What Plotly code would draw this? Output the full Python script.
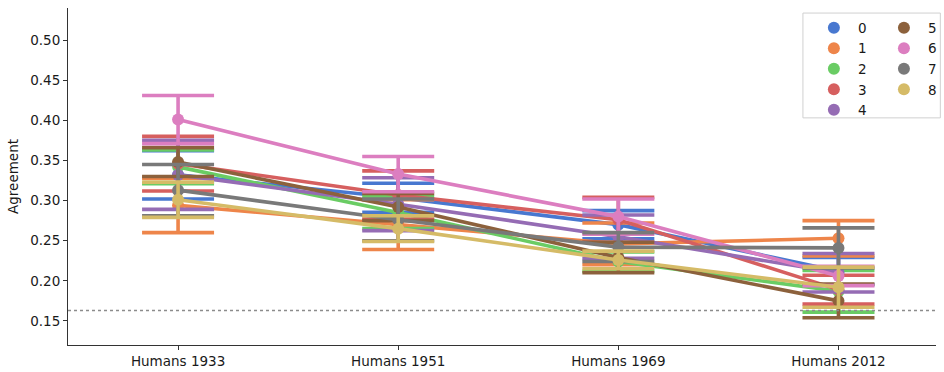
import plotly.graph_objects as go

# Agreement per model group across the four human reference sets
categories = ["Humans 1933", "Humans 1951", "Humans 1969", "Humans 2012"]
groups = ["0", "1", "2", "3", "4", "5", "6", "7", "8"]

mean_0 = [0.332, 0.3035, 0.270, 0.212]
mean_1 = [0.294, 0.270, 0.246, 0.253]
mean_2 = [0.342, 0.285, 0.224, 0.187]
mean_3 = [0.346, 0.307, 0.276, 0.189]
mean_4 = [0.332, 0.2955, 0.255, 0.210]
mean_5 = [0.348, 0.292, 0.229, 0.175]
mean_6 = [0.401, 0.333, 0.280, 0.206]
mean_7 = [0.313, 0.276, 0.242, 0.241]
mean_8 = [0.301, 0.265, 0.226, 0.192]

ci_0 = [0.030, 0.018, 0.0175, 0.017]
ci_1 = [0.034, 0.031, 0.026, 0.022]
ci_2 = [0.021, 0.020, 0.012, 0.026]
ci_3 = [0.034, 0.030, 0.028, 0.018]
ci_4 = [0.043, 0.033, 0.027, 0.024]
ci_5 = [0.018, 0.017, 0.019, 0.021]
ci_6 = [0.030, 0.022, 0.022, 0.012]
ci_7 = [0.032, 0.026, 0.018, 0.025]
ci_8 = [0.022, 0.016, 0.011, 0.025]

chance_level = 0.163

means = [mean_0, mean_1, mean_2, mean_3, mean_4, mean_5, mean_6, mean_7, mean_8]
cis = [ci_0, ci_1, ci_2, ci_3, ci_4, ci_5, ci_6, ci_7, ci_8]

# seaborn "muted" palette
palette = ["#4878d0", "#ee854a", "#6acc64", "#d65f5f", "#956cb4",
           "#8c613c", "#dc7ec0", "#797979", "#d5bb67"]

FONT = "DejaVu Sans"
FS = 13.5
TEXT = "#1a1a1a"
AXIS_COLOR = "#333333"

fig = go.Figure()

for name, m, ci, col in zip(groups, means, cis, palette):
    fig.add_trace(go.Scatter(
        x=categories, y=m,
        mode="lines+markers",
        line=dict(color=col, width=3.6),
        marker=dict(color=col, size=12),
        error_y=dict(type="data", array=ci, visible=True,
                     color=col, thickness=3.6, width=36),
        showlegend=False, hoverinfo="skip",
    ))

# legend entries: circles only, split into two columns
for i, (name, col) in enumerate(zip(groups, palette)):
    fig.add_trace(go.Scatter(
        x=[None], y=[None], mode="markers",
        marker=dict(color=col, size=12),
        name=name, showlegend=True,
        legend="legend" if i < 5 else "legend2",
    ))

fig.add_shape(type="line", xref="paper", yref="y",
              x0=0, x1=1, y0=chance_level, y1=chance_level,
              line=dict(color="#8c8c8c", width=1.6, dash="dot"))

# frame around both legend columns
fig.add_shape(type="rect", xref="paper", yref="paper",
              x0=0.8467, x1=1.005, y0=0.674, y1=0.985,
              line=dict(color="#d0d0d0", width=1), fillcolor="rgba(255,255,255,0.8)",
              layer="above")

legend_common = dict(
    font=dict(family=FONT, size=FS, color=TEXT),
    bgcolor="rgba(0,0,0,0)", borderwidth=0,
    itemsizing="constant", itemwidth=38, tracegroupgap=0,
    xanchor="left", yanchor="top",
)

fig.update_layout(
    width=944, height=372,
    margin=dict(l=68, r=2, t=8, b=27),
    paper_bgcolor="white", plot_bgcolor="white",
    font=dict(family=FONT, size=FS, color=TEXT),
    legend=dict(x=0.8547, y=0.987, **legend_common),
    legend2=dict(x=0.9354, y=0.987, **legend_common),
    xaxis=dict(
        type="category", categoryorder="array", categoryarray=categories,
        range=[-0.5, 3.443],
        showline=True, linecolor=AXIS_COLOR, linewidth=1,
        ticks="outside", ticklen=4, tickcolor=AXIS_COLOR,
        showgrid=False, zeroline=False,
        tickfont=dict(family=FONT, size=FS, color=TEXT),
    ),
    yaxis=dict(
        range=[0.12, 0.54],
        tickvals=[0.15, 0.20, 0.25, 0.30, 0.35, 0.40, 0.45, 0.50],
        tickformat=".2f",
        showline=True, linecolor=AXIS_COLOR, linewidth=1,
        ticks="outside", ticklen=4, tickcolor=AXIS_COLOR,
        showgrid=False, zeroline=False,
        tickfont=dict(family=FONT, size=FS, color=TEXT),
        title=dict(text="Agreement", font=dict(family=FONT, size=FS, color=TEXT),
                   standoff=8),
    ),
)

fig.write_html("out.html")
